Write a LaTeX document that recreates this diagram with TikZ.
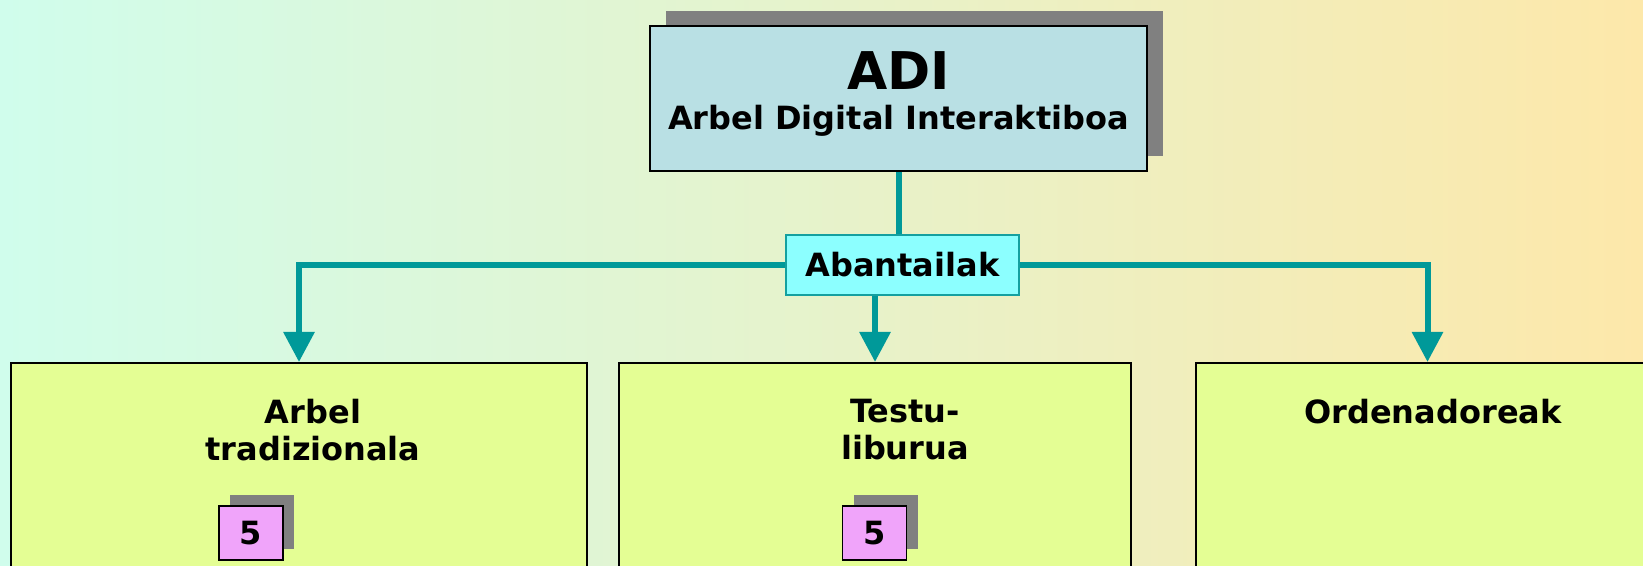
\documentclass[tikz,border=0pt]{standalone}
\usepackage{fontspec}
\setmainfont{DejaVu Sans}
\usetikzlibrary{arrows.meta,shadows}
\definecolor{bgleft}{RGB}{208,253,236}
\definecolor{bgright}{RGB}{253,232,170}
\definecolor{linkteal}{RGB}{0,153,153}
\definecolor{topblue}{RGB}{185,224,228}
\definecolor{tagcyan}{RGB}{140,255,255}
\definecolor{tagedge}{RGB}{20,160,160}
\definecolor{itemgreen}{RGB}{228,254,148}
\definecolor{numpink}{RGB}{240,164,250}
\definecolor{shadowgray}{RGB}{128,128,128}
\begin{document}
\begin{tikzpicture}[x=0.5pt,y=-0.5pt,>={Triangle[width=15pt,length=15pt]},
	font=\fontsize{16}{18.5}\selectfont\bfseries,
	link/.style={draw=linkteal,line width=3pt},
	topbox/.style={draw,line width=1pt,fill=topblue,minimum width=248.5pt,minimum height=72.5pt,
		drop shadow={shadow xshift=8pt,shadow yshift=7.5pt,fill=shadowgray,opacity=1}},
	tagbox/.style={draw=tagedge,line width=0.6pt,fill=tagcyan,minimum width=116.5pt,minimum height=30pt},
	itembox/.style={draw,line width=1pt,fill=itemgreen,minimum height=130pt,anchor=north},
	itemtitle/.style={anchor=north,align=center,inner sep=0pt},
	numbox/.style={draw,line width=0.8pt,fill=numpink,minimum width=32pt,minimum height=27pt,inner sep=0pt,
		drop shadow={shadow xshift=5.5pt,shadow yshift=5.5pt,fill=shadowgray,opacity=1}}]
	\useasboundingbox (0,0) rectangle (1643,566);
	\clip (0,0) rectangle (1643,566);
	\shade[left color=bgleft,right color=bgright] (0,0) rectangle (1643,566);
	\node[topbox] (adi) at (898.5,98.5) {};
	\node[anchor=base,font=\fontsize{26}{28}\selectfont\bfseries] (aditxt) at (898.5,90) {ADI};
	\node[anchor=base] (adisub) at (898.5,130) {Arbel Digital Interaktiboa};
	\node[tagbox] (abt) at (902.5,265) {Abantailak};
	\node[itembox,minimum width=288pt] (arbel) at (299,362) {};
	\node[itembox,minimum width=256pt] (testu) at (875,362) {};
	\node[itembox,minimum width=232pt] (orden) at (1427.5,362) {};
	\node[itemtitle] (arbeltxt) at (313,399) {Arbel\\tradizionala};
	\node[itemtitle] (testutxt) at (905,399) {Testu-\\liburua};
	\node[itemtitle] (ordentxt) at (1433,399) {Ordenadoreak};
	\node[numbox] (num1) at (251,533) {5};
	\node[numbox] (num2) at (874.5,533) {5};
	\draw[link] (adi.south) -- (adi.south |- abt.north);
	\draw[link,->] (abt.west) -| (arbel.north);
	\draw[link,->] (abt.south -| testu.north) -- (testu.north);
	\draw[link,->] (abt.east) -| (orden.north);
\end{tikzpicture}
\end{document}
